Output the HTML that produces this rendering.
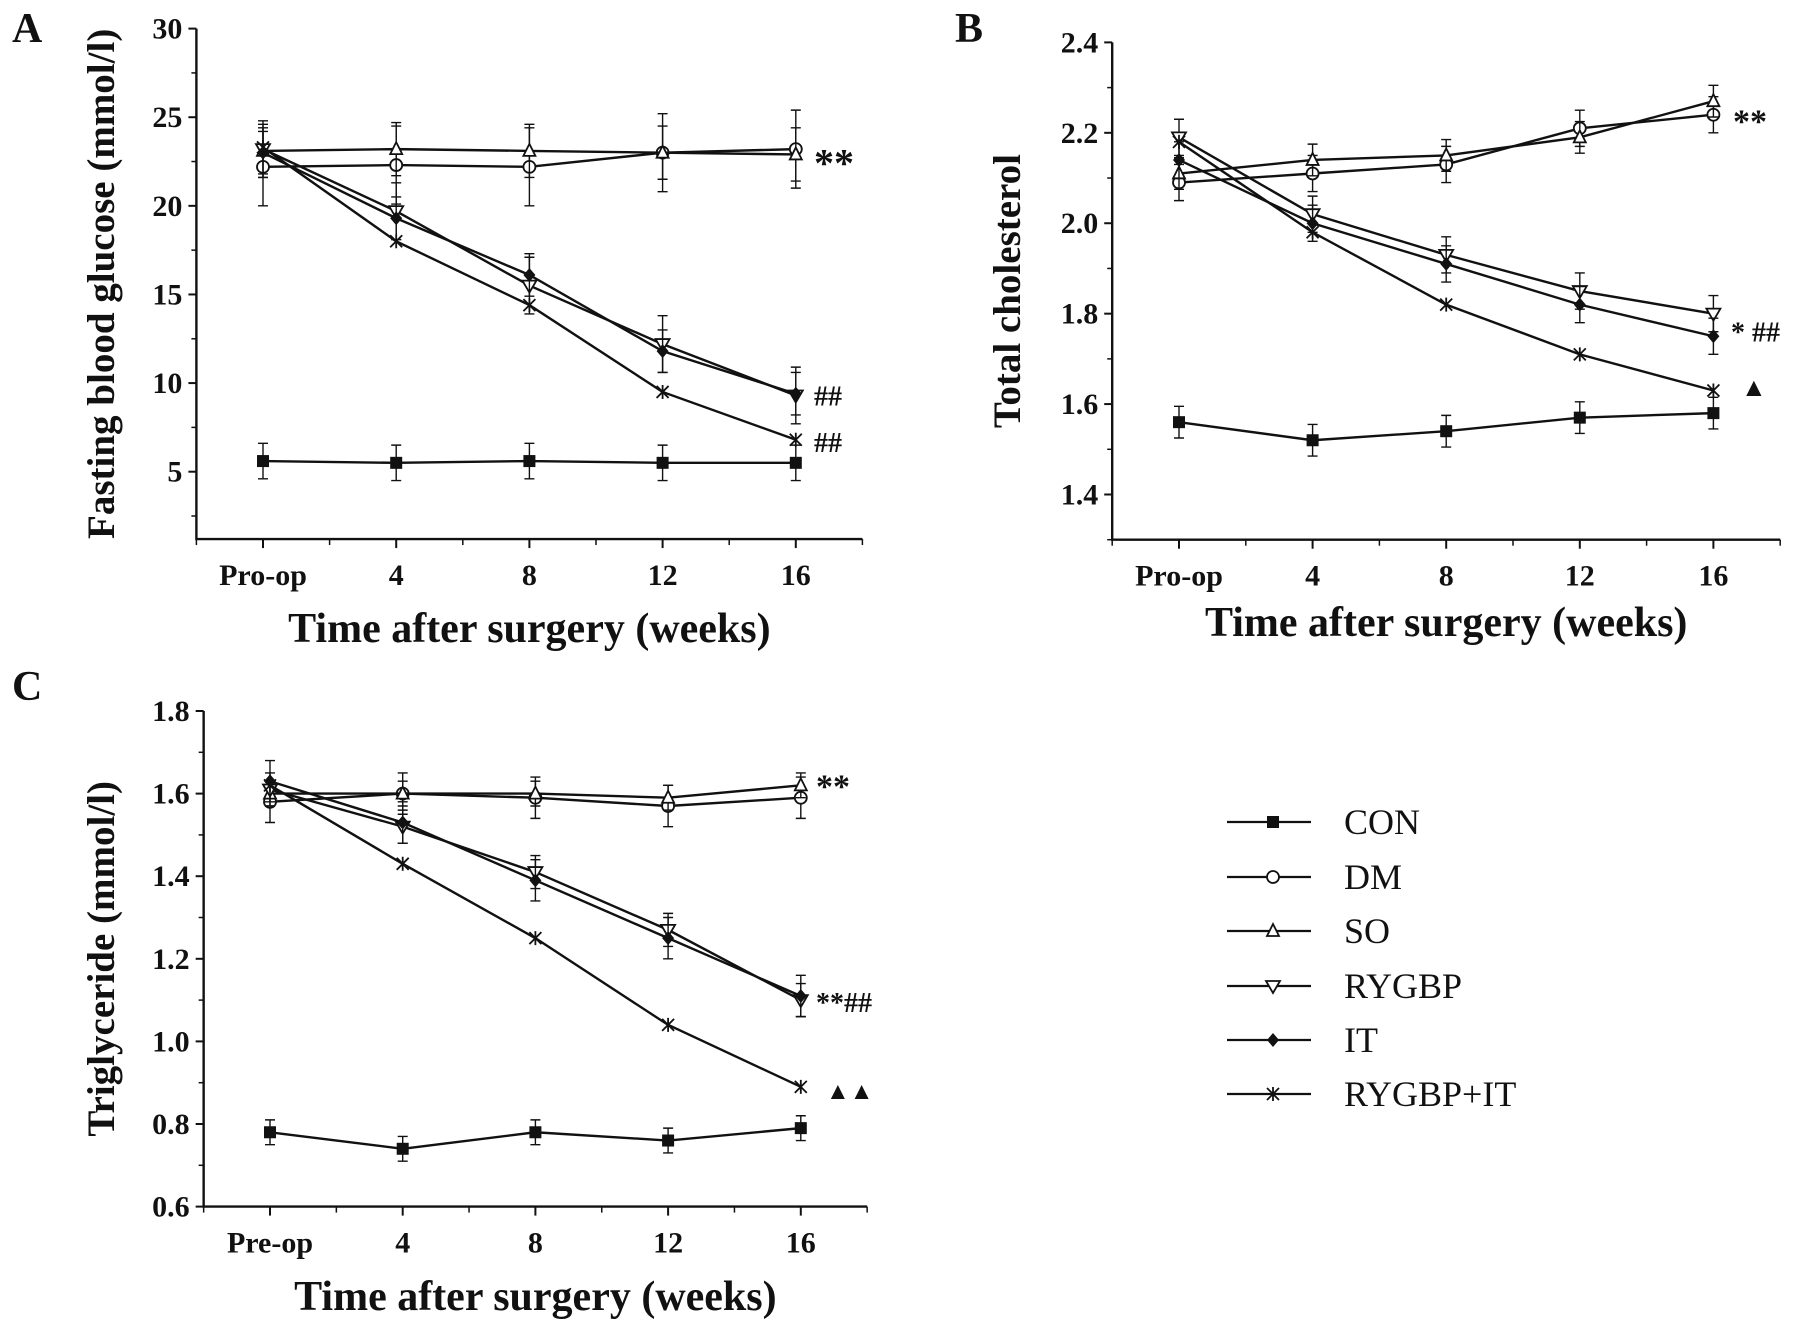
<!DOCTYPE html>
<html><head><meta charset="utf-8"><style>
body{margin:0;background:#fff}
svg{display:block;font-family:"Liberation Serif",serif}
</style></head><body>
<svg id="fig" width="1795" height="1331" viewBox="0 0 1795 1331"></svg>
<script>
const xCats=["Pro-op","4","8","12","16"];
const xCatsC=["Pre-op","4","8","12","16"];
const seriesNames=["CON","DM","SO","RYGBP","IT","RYGBP+IT"];
// Panel A values
const aCON=[5.6,5.5,5.6,5.5,5.5];
const aDM=[22.2,22.3,22.2,23.0,23.2];
const aSO=[23.1,23.2,23.1,23.0,22.9];
const aRY=[23.2,19.7,15.5,12.2,9.3];
const aIT=[23.0,19.3,16.1,11.8,9.4];
const aRI=[23.3,18.0,14.4,9.5,6.8];
const aErr=[1.0,2.2,1.5,1.6,1.2];
const aTicks=[5,10,15,20,25,30];
// Panel B values
const bCON=[1.56,1.52,1.54,1.57,1.58];
const bDM=[2.09,2.11,2.13,2.21,2.24];
const bSO=[2.11,2.14,2.15,2.19,2.27];
const bRY=[2.19,2.02,1.93,1.85,1.80];
const bIT=[2.14,2.00,1.91,1.82,1.75];
const bRI=[2.18,1.98,1.82,1.71,1.63];
const bErr=[0.035,0.04,0.035,0.04,0.04];
const bTicks=["1.4","1.6","1.8","2.0","2.2","2.4"];
// Panel C values
const cCON=[0.78,0.74,0.78,0.76,0.79];
const cDM=[1.58,1.60,1.59,1.57,1.59];
const cSO=[1.60,1.60,1.60,1.59,1.62];
const cRY=[1.61,1.52,1.41,1.27,1.10];
const cIT=[1.63,1.53,1.39,1.25,1.11];
const cRI=[1.62,1.43,1.25,1.04,0.89];
const cErr=[0.03,0.05,0.03,0.04,0.05];
const cTicks=["0.6","0.8","1.0","1.2","1.4","1.6","1.8"];

const NS="http://www.w3.org/2000/svg";
const svg=document.getElementById('fig');
function el(tag,attrs,parent){const e=document.createElementNS(NS,tag);for(const k in attrs)e.setAttribute(k,attrs[k]);(parent||svg).appendChild(e);return e;}
function txt(s,x,y,size,anchor,parent,extra){const t=el('text',Object.assign({x:x,y:y,'font-size':size,'font-weight':'bold','text-anchor':anchor||'middle',fill:'#111'},extra||{}),parent);t.textContent=s;return t;}
const C='#111';
function marker(g,type,x,y){
  const s=6;let m;
  if(type===0)m=el('rect',{x:x-s,y:y-s,width:2*s,height:2*s,fill:C},g);
  else if(type===1)m=el('circle',{cx:x,cy:y,r:s,fill:'#fff',stroke:C,'stroke-width':1.8},g);
  else if(type===2)m=el('polygon',{points:`${x},${y-s-1} ${x-s},${y+s-1} ${x+s},${y+s-1}`,fill:'#fff',stroke:C,'stroke-width':1.8},g);
  else if(type===3)m=el('polygon',{points:`${x},${y+s+1} ${x-s-1},${y-s+1} ${x+s+1},${y-s+1}`,fill:'#fff',stroke:C,'stroke-width':1.8},g);
  else if(type===4)m=el('polygon',{points:`${x},${y-s-1} ${x-s},${y} ${x},${y+s+1} ${x+s},${y}`,fill:C},g);
  else{m=el('path',{d:`M${x-s},${y-s}L${x+s},${y+s}M${x+s},${y-s}L${x-s},${y+s}M${x},${y-s-1}L${x},${y+s+1}`,stroke:C,'stroke-width':1.8,fill:'none'},g);}
  
  
}
function panel(o){
  const g=el('g',{});
  
  
  const xs=i=>o.x0+i*o.dx;
  const ys=v=>o.yA+(v-o.vA)*(o.yB-o.yA)/(o.vB-o.vA);
  const left=o.x0-0.5*o.dx,right=o.x0+4.5*o.dx,bot=ys(o.vmin),top=ys(o.vmax);
  const ax=el('path',{d:`M${left},${top}L${left},${bot}L${right},${bot}`,stroke:C,'stroke-width':2.4,fill:'none'},g);
  
  
  o.ticks.forEach((t,i)=>{const v=parseFloat(t);const y=ys(v);
    el('line',{x1:left-8,x2:left,y1:y,y2:y,stroke:C,'stroke-width':2},g);
    const lb=txt(t,left-14,y+10,o.tf,'end',g);
    
    
    if(i<o.ticks.length-1){const v2=parseFloat(o.ticks[i+1]);const ym=ys((v+v2)/2);el('line',{x1:left-5,x2:left,y1:ym,y2:ym,stroke:C,'stroke-width':1.5},g);}
  });
  if(o.minorBelow!==undefined){const ym=ys(o.minorBelow);el('line',{x1:left-5,x2:left,y1:ym,y2:ym,stroke:C,'stroke-width':1.5},g);}
  for(let i=0;i<5;i++){const x=xs(i);el('line',{x1:x,x2:x,y1:bot,y2:bot+9,stroke:C,'stroke-width':2},g);
    const lb=txt(o.cats[i],x,bot+46,o.tf,'middle',g);
    
    }
  for(let i=-0.5;i<=4.5;i+=1){const x=xs(i);el('line',{x1:x,x2:x,y1:bot,y2:bot+6,stroke:C,'stroke-width':1.5},g);}
  o.series.forEach((d,si)=>{
    const sg=el('g',{},g);
    
    
    el('polyline',{points:d.map((v,i)=>xs(i)+','+ys(v)).join(' '),fill:'none',stroke:C,'stroke-width':2.4},sg);
    d.forEach((v,i)=>{const e=o.err[si];const x=xs(i);
      el('path',{d:`M${x},${ys(v-e)}L${x},${ys(v+e)}M${x-5},${ys(v-e)}L${x+5},${ys(v-e)}M${x-5},${ys(v+e)}L${x+5},${ys(v+e)}`,stroke:C,'stroke-width':1.4,fill:'none'},sg);
    });
    d.forEach((v,i)=>marker(sg,si,xs(i),ys(v)));
  });
  const lt=txt(o.id,o.lx,o.ly,42,'start',g);
  
  
  const yt=txt(o.ytitle,0,0,o.ytf,'middle',g,{transform:`translate(${o.ytx},${(top+bot)/2}) rotate(-90)`});
  
  
  const xt=txt('Time after surgery (weeks)',(left+right)/2,o.xty,42,'middle',g);
  
  
  o.notes.forEach(n=>{const t=txt(n[0],n[1],ys(n[2])+n[3],n[4],'start',g);
    
    });
}
panel({id:'A',x0:263,dx:133.2,vA:30,yA:28.6,vB:5,yB:471.7,vmin:1.2,vmax:30,ticks:aTicks.map(String),minorBelow:2.5,cats:xCats,tf:30,
  series:[aCON,aDM,aSO,aRY,aIT,aRI],err:aErr,lx:12,ly:42,ytitle:'Fasting blood  glucose (mmol/l)',ytf:39,ytx:114,xty:642,
  notes:[['**',814,22.9,22,40],['##',814,9.4,12,28],['##',814,6.8,12,28]]});
panel({id:'B',x0:1179,dx:133.6,vA:2.4,yA:42.4,vB:1.4,yB:494.5,vmin:1.3,vmax:2.4,ticks:bTicks,minorBelow:1.3,cats:xCats,tf:30,
  series:[bCON,bDM,bSO,bRY,bIT,bRI],err:bErr,lx:955,ly:42,ytitle:'Total cholesterol',ytf:39,ytx:1020,xty:636,
  notes:[['**',1733,2.24,18,34],['* ##',1731,1.76,10,28],['▲',1741,1.64,10,26]]});
panel({id:'C',x0:270,dx:132.7,vA:1.8,yA:711,vB:0.6,yB:1206.6,vmin:0.6,vmax:1.8,ticks:cTicks,cats:xCatsC,tf:30,
  series:[cCON,cDM,cSO,cRY,cIT,cRI],err:cErr,lx:12,ly:700,ytitle:'Triglyceride (mmol/l)',ytf:39,ytx:114,xty:1310,
  notes:[['**',816,1.62,12,34],['**##',816,1.1,12,28],['▲▲',826,0.89,12,24]]});
const lg=el('g',{});


const legY=[822,877,931,986,1040,1094];
seriesNames.forEach((n,i)=>{
  const eg=el('g',{},lg);
  
  
  el('line',{x1:1227,x2:1311,y1:legY[i],y2:legY[i],stroke:C,'stroke-width':2.2},eg);
  marker(eg,i,1273,legY[i]);
  const t=el('text',{x:1344,y:legY[i]+12,'font-size':36,fill:'#111'},eg);t.textContent=n;
});
</script>
</body></html>
